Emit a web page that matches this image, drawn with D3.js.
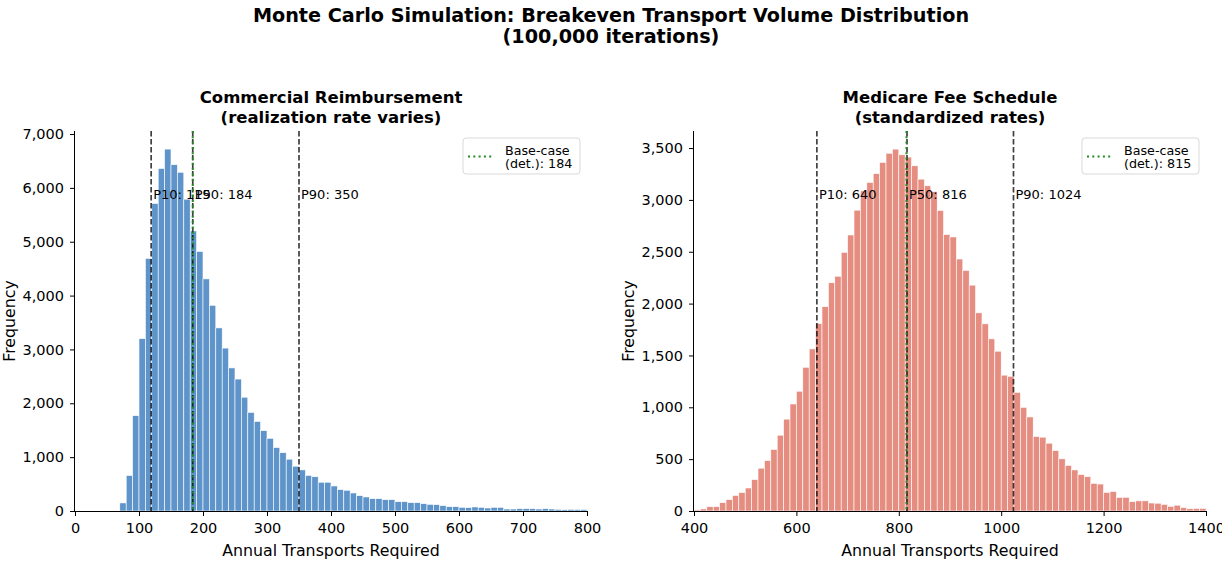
<!DOCTYPE html>
<html>
<head>
<meta charset="utf-8">
<script src="https://cdn.jsdelivr.net/npm/d3@7"></script>
<style>
  html, body { margin: 0; padding: 0; background: #fff; }
  svg { display: block; font-family: "DejaVu Sans", sans-serif; }
</style>
</head>
<body>
<svg id="chart" width="1222" height="561"></svg>
<script>
// ---------------- DATA ----------------
const suptitleLines = ["Monte Carlo Simulation: Breakeven Transport Volume Distribution", "(100,000 iterations)"];

// Commercial histogram: bins of width 10 starting at 70
const commercialBinStart = 70;
const commercialBinWidth = 10;
const commercialCounts = [150, 660, 1770, 3200, 4690, 5710, 6360, 6720, 6430, 6290,
  5790, 5200, 4820, 4310, 3820, 3400, 3025, 2657, 2450, 2113,
  1830, 1663, 1492, 1350, 1179, 1083, 962, 832, 763, 661,
  636, 534, 534, 465, 397, 385, 335, 285, 261, 229,
  229, 210, 210, 173, 173, 155, 155, 136, 124, 118,
  99, 80, 80, 68, 62, 75, 68, 56, 68, 68,
  37, 37, 43, 43, 43, 37, 43, 37, 31, 25,
  31, 28, 28];
const commercialXTicks = [0, 100, 200, 300, 400, 500, 600, 700, 800];
const commercialYTicks = [0, 1000, 2000, 3000, 4000, 5000, 6000, 7000];
const commercialPercentiles = [{label: "P10", value: 119}, {label: "P50", value: 184}, {label: "P90", value: 350}];
const commercialBase = 184;
const commercialTitle = ["Commercial Reimbursement", "(realization rate varies)"];

// Medicare histogram: bins of width 12.5 starting at 400
const medicareBinStart = 400;
const medicareBinWidth = 12.5;
const medicareCounts = [10, 20, 42, 42, 80, 110, 150, 178, 222, 303,
  413, 486, 593, 731, 886, 1032, 1155, 1386, 1563, 1808,
  1970, 2201, 2264, 2495, 2662, 2901, 3087, 3168, 3253, 3362,
  3450, 3490, 3435, 3413, 3329, 3200, 3136, 3080, 2898, 2666,
  2643, 2430, 2320, 2178, 1911, 1805, 1660, 1541, 1310, 1299,
  1144, 1000, 907, 719, 712, 654, 583, 503, 440, 396,
  351, 332, 267, 260, 179, 188, 132, 132, 90, 98,
  98, 77, 75, 64, 45, 56, 33, 22, 25, 25];
const medicareXTicks = [400, 600, 800, 1000, 1200, 1400];
const medicareYTicks = [0, 500, 1000, 1500, 2000, 2500, 3000, 3500];
const medicarePercentiles = [{label: "P10", value: 640}, {label: "P50", value: 816}, {label: "P90", value: 1024}];
const medicareBase = 815;
const medicareTitle = ["Medicare Fee Schedule", "(standardized rates)"];

// ---------------- DRAW ----------------
const svg = d3.select("#chart");
const fmt = d3.format(",");

svg.append("g").selectAll("text").data(suptitleLines).join("text")
  .attr("x", 611).attr("y", (d, i) => 22 + i * 20.5)
  .attr("text-anchor", "middle")
  .attr("font-size", "19.2px").attr("font-weight", "bold").attr("fill", "#000")
  .text(d => d);

function panel(opts) {
  const {left, right, top, bottom, xDomain, xTicks, yTicks, counts, binStart, binWidth,
         fill, percentiles, base, title} = opts;
  const g = svg.append("g");
  const x = d3.scaleLinear().domain(xDomain).range([left, right]);
  const yMax = d3.max(counts) * 1.05;
  const y = d3.scaleLinear().domain([0, yMax]).range([bottom, top]);

  // bars
  g.append("g").selectAll("rect").data(counts).join("rect")
    .attr("x", (d, i) => x(binStart + i * binWidth))
    .attr("width", (d, i) => x(binStart + (i + 1) * binWidth) - x(binStart + i * binWidth))
    .attr("y", d => y(d))
    .attr("height", d => bottom - y(d))
    .attr("fill", fill)
    .attr("stroke", "#fff").attr("stroke-width", 0.6);

  // percentile lines
  percentiles.forEach(p => {
    g.append("line")
      .attr("x1", x(p.value)).attr("x2", x(p.value))
      .attr("y1", top).attr("y2", bottom)
      .attr("stroke", "#000").attr("stroke-opacity", 0.75)
      .attr("stroke-width", 1.7).attr("stroke-dasharray", "5.6,2.4");
    g.append("text")
      .attr("x", x(p.value) + 2).attr("y", y(yMax * 0.85) + 10.5)
      .attr("font-size", "13px").attr("fill", "#000")
      .text(`${p.label}: ${p.value}`);
  });
  // base-case line
  g.append("line")
    .attr("x1", x(base)).attr("x2", x(base))
    .attr("y1", top).attr("y2", bottom)
    .attr("stroke", "#228b22")
    .attr("stroke-width", 2).attr("stroke-dasharray", "2,3.3");

  // axes
  const xAxis = d3.axisBottom(x).tickValues(xTicks).tickSize(5).tickPadding(7).tickFormat(d3.format("d"));
  const gx = g.append("g").attr("transform", `translate(0,${bottom})`).call(xAxis);
  const yAxis = d3.axisLeft(y).tickValues(yTicks).tickSize(5).tickPadding(6).tickFormat(fmt);
  const gy = g.append("g").attr("transform", `translate(${left},0)`).call(yAxis);
  [gx, gy].forEach(a => {
    a.select(".domain").attr("stroke", "#000").attr("stroke-width", 1);
    a.selectAll(".tick line").attr("stroke", "#000").attr("stroke-width", 1);
    a.selectAll(".tick text").attr("font-size", "14.5px").attr("fill", "#000")
      .attr("font-family", "DejaVu Sans, sans-serif");
  });
  gx.select(".domain").attr("d", `M${left},0.5H${right}`);
  gy.select(".domain").attr("d", `M-0.5,${top}V${bottom}`);

  // axis labels
  g.append("text").attr("x", (left + right) / 2).attr("y", 555.5)
    .attr("text-anchor", "middle").attr("font-size", "15.8px").attr("fill", "#000")
    .text("Annual Transports Required");
  g.append("text")
    .attr("transform", `translate(${left - 60},${(top + bottom) / 2}) rotate(-90)`)
    .attr("text-anchor", "middle").attr("font-size", "15.8px").attr("fill", "#000")
    .text("Frequency");

  // title
  g.append("g").selectAll("text").data(title).join("text")
    .attr("x", (left + right) / 2).attr("y", (d, i) => 103 + i * 19.5)
    .attr("text-anchor", "middle").attr("font-size", "16.5px").attr("font-weight", "bold")
    .attr("fill", "#000").text(d => d);

  // legend
  const lw = 117, lh = 36;
  const lx = right - 7 - lw, ly = top + 7;
  const lg = g.append("g").attr("transform", `translate(${lx},${ly})`);
  lg.append("rect").attr("width", lw).attr("height", lh).attr("rx", 3)
    .attr("fill", "#fff").attr("fill-opacity", 0.8)
    .attr("stroke", "#d9d9d9").attr("stroke-width", 1);
  lg.append("line").attr("x1", 5).attr("x2", 29).attr("y1", lh / 2 + 0.5).attr("y2", lh / 2 + 0.5)
    .attr("stroke", "#228b22").attr("stroke-width", 2).attr("stroke-dasharray", "2,3.3");
  lg.append("text").attr("x", 42).attr("y", 16.5).attr("font-size", "12.7px").attr("fill", "#000")
    .text("Base-case");
  lg.append("text").attr("x", 42).attr("y", 30).attr("font-size", "12.7px").attr("fill", "#000")
    .text(`(det.): ${base}`);
}

panel({left: 75, right: 587, top: 131, bottom: 511, xDomain: [0, 800],
  xTicks: commercialXTicks, yTicks: commercialYTicks, counts: commercialCounts,
  binStart: commercialBinStart, binWidth: commercialBinWidth, fill: "#5e94ca",
  percentiles: commercialPercentiles, base: commercialBase, title: commercialTitle});

panel({left: 694, right: 1206, top: 131, bottom: 511, xDomain: [400, 1400],
  xTicks: medicareXTicks, yTicks: medicareYTicks, counts: medicareCounts,
  binStart: medicareBinStart, binWidth: medicareBinWidth, fill: "#e58d80",
  percentiles: medicarePercentiles, base: medicareBase, title: medicareTitle});
</script>
</body>
</html>
